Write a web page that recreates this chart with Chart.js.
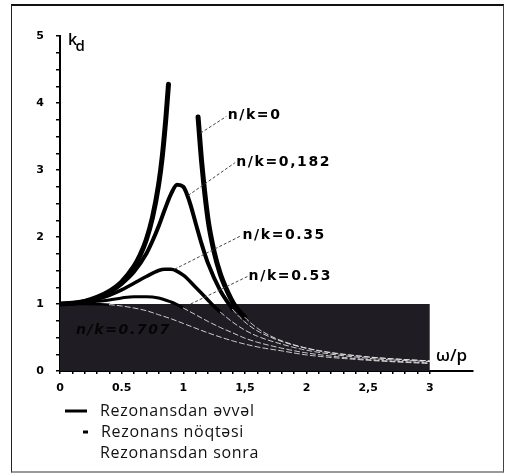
<!DOCTYPE html>
<html>
<head>
<meta charset="utf-8">
<script src="https://cdn.jsdelivr.net/npm/chart.js@4.4.1/dist/chart.umd.min.js"></script>
<style>
  html, body { margin: 0; padding: 0; background: #fff; }
  #wrap { position: relative; width: 505px; height: 473px; }
  #c { position: absolute; left: 0; top: 0; }
  #frame { position: absolute; left: 11px; top: 4px; width: 491px; height: 465px;
           border-top: 2px solid #111; border-left: 1.5px solid #222; border-right: 1px solid #444; border-bottom: 2px solid #999;
           pointer-events: none; }
</style>
</head>
<body>
<div id="wrap">
  <canvas id="c" width="505" height="473"></canvas>
  <div id="frame"></div>
</div>
<script>
// ---------------- data ----------------
const xTickLabels = ['0', '0.5', '1', '1,5', '2', '2,5', '3'];
const yTickLabels = ['0', '1', '2', '3', '4', '5'];

// n/k = 0 (two branches, broken at resonance)
const nk0LeftX  = [0, 0.1, 0.2, 0.3, 0.4, 0.5, 0.6, 0.65, 0.7, 0.75, 0.8, 0.83, 0.86, 0.88];
const nk0LeftY  = [1, 1.01, 1.04, 1.10, 1.19, 1.33, 1.56, 1.73, 1.96, 2.29, 2.78, 3.21, 3.80, 4.28];
const nk0RightX = [1.12, 1.15, 1.2, 1.25, 1.3, 1.35, 1.41, 1.5, 1.6, 1.7, 1.8, 2.0, 2.2, 2.5, 2.8, 3.0];
const nk0RightY = [3.79, 3.10, 2.27, 1.78, 1.45, 1.22, 1.0, 0.80, 0.64, 0.53, 0.45, 0.34, 0.27, 0.21, 0.17, 0.15];

// n/k = 0,182
const nk0182X = [0, 0.1, 0.2, 0.3, 0.4, 0.5, 0.6, 0.7, 0.75, 0.8, 0.85, 0.9, 0.95, 1.0, 1.05, 1.1, 1.15, 1.2, 1.3, 1.37, 1.4, 1.5, 1.6, 1.8, 2.0, 2.5, 3.0];
const nk0182Y = [1, 1.01, 1.04, 1.09, 1.17, 1.30, 1.48, 1.75, 1.94, 2.16, 2.41, 2.64, 2.78, 2.75, 2.53, 2.21, 1.89, 1.61, 1.20, 1.0, 0.92, 0.73, 0.60, 0.44, 0.34, 0.21, 0.15];

// n/k = 0.35
const nk035X = [0, 0.1, 0.2, 0.3, 0.4, 0.5, 0.6, 0.7, 0.8, 0.85, 0.9, 1.0, 1.1, 1.2, 1.23, 1.3, 1.4, 1.5, 1.6, 1.8, 2.0, 2.5, 3.0];
const nk035Y = [1, 1.01, 1.03, 1.07, 1.13, 1.21, 1.31, 1.41, 1.50, 1.52, 1.52, 1.43, 1.25, 1.06, 1.0, 0.88, 0.73, 0.61, 0.52, 0.40, 0.31, 0.19, 0.14];

// n/k = 0.53
const nk053X = [0, 0.1, 0.2, 0.3, 0.4, 0.5, 0.6, 0.65, 0.7, 0.8, 0.9, 0.94, 1.0, 1.1, 1.2, 1.3, 1.4, 1.5, 1.6, 1.8, 2.0, 2.5, 3.0];
const nk053Y = [1, 1.0, 1.02, 1.04, 1.06, 1.09, 1.11, 1.11, 1.11, 1.09, 1.03, 1.0, 0.94, 0.84, 0.74, 0.65, 0.57, 0.49, 0.43, 0.34, 0.27, 0.17, 0.12];

// n/k = 0.707
const nk0707X = [0, 0.1, 0.2, 0.3, 0.4, 0.5, 0.6, 0.7, 0.8, 0.9, 1.0, 1.2, 1.4, 1.6, 1.8, 2.0, 2.5, 3.0];
const nk0707Y = [1, 1.0, 1.0, 0.996, 0.99, 0.97, 0.94, 0.90, 0.84, 0.78, 0.71, 0.57, 0.45, 0.36, 0.30, 0.24, 0.16, 0.11];

// shaded zone k_d <= 1 (0 .. 3)
const zoneX = [0, 3];
const zoneY = [1, 1];

const curveLabels = ['n/k=0', 'n/k=0,182', 'n/k=0.35', 'n/k=0.53', 'n/k=0.707'];
const legendLabels = ['Rezonansdan əvvəl', 'Rezonans nöqtəsi', 'Rezonansdan sonra'];
const xAxisTitle = 'ω/p';
const yAxisTitle = ['k', 'd'];

// ---------------- build ----------------
const pts = (xs, ys) => xs.map((v, i) => ({ x: v, y: ys[i] }));
const below = c => Math.max(c.p0.parsed.y, c.p1.parsed.y) < 0.995;

function curve(xs, ys, w) {
  return {
    data: pts(xs, ys),
    borderColor: '#000',
    borderWidth: w,
    pointRadius: 0,
    fill: false,
    cubicInterpolationMode: 'monotone',
    borderCapStyle: 'round',
    order: 1,
    segment: {
      borderColor: c => below(c) ? 'rgba(235,235,235,0.85)' : undefined,
      borderDash: c => below(c) ? [5, 3] : undefined,
      borderWidth: c => below(c) ? 1 : undefined
    }
  };
}

const labelPos = [[1.36, 3.81], [1.43, 3.12], [1.48, 2.03], [1.53, 1.42], [0.13, 0.61]];
const leaders = [[1.14, 3.55, 1.35, 3.80], [1.04, 2.62, 1.42, 3.11], [0.93, 1.52, 1.47, 2.02], [1.06, 1.0, 1.52, 1.41]];

const annot = {
  id: 'annot',
  afterDatasetsDraw(chart) {
    const { ctx, scales: { x, y } } = chart;
    const X = v => x.getPixelForValue(v), Y = v => y.getPixelForValue(v);
    ctx.save();
    ctx.strokeStyle = '#444';
    ctx.lineWidth = 1;
    ctx.setLineDash([3, 2]);
    leaders.forEach(l => {
      ctx.beginPath(); ctx.moveTo(X(l[0]), Y(l[1])); ctx.lineTo(X(l[2]), Y(l[3])); ctx.stroke();
    });
    ctx.setLineDash([]);
    ctx.fillStyle = '#000';
    ctx.textBaseline = 'middle';
    ctx.textAlign = 'left';
    ctx.font = 'bold 14px "DejaVu Sans"';
    ctx.letterSpacing = '1.6px';
    for (let i = 0; i < 4; i++) ctx.fillText(curveLabels[i], X(labelPos[i][0]), Y(labelPos[i][1]));
    ctx.font = 'italic bold 14px "DejaVu Sans"';
    ctx.fillStyle = '#050505';
    ctx.fillText(curveLabels[4], X(labelPos[4][0]), Y(labelPos[4][1]));
    ctx.letterSpacing = '0px';

    // axis titles
    ctx.fillStyle = '#000';
    ctx.font = '600 17px "Open Sans"';
    ctx.fillText(xAxisTitle, X(3.05), Y(0.22));
    ctx.font = '600 16px "Open Sans"';
    ctx.fillText(yAxisTitle[0], X(0.065), Y(4.93));
    ctx.font = '600 15px "Open Sans"';
    ctx.fillText(yAxisTitle[1], X(0.125), Y(4.84));

    // legend
    const lx = chart.chartArea.left;
    const top = chart.chartArea.bottom;
    ctx.strokeStyle = '#000';
    ctx.lineWidth = 3;
    ctx.beginPath(); ctx.moveTo(lx + 5, top + 40); ctx.lineTo(lx + 27, top + 40); ctx.stroke();
    ctx.beginPath(); ctx.moveTo(lx + 23, top + 61); ctx.lineTo(lx + 28, top + 61); ctx.stroke();
    ctx.font = '16px "Open Sans"';
    ctx.letterSpacing = '0.7px';
    ctx.fillStyle = '#111';
    ctx.fillText(legendLabels[0], lx + 40, top + 40);
    ctx.fillText(legendLabels[1], lx + 41, top + 61);
    ctx.fillText(legendLabels[2], lx + 40, top + 82);
    ctx.restore();
  }
};

new Chart(document.getElementById('c'), {
  type: 'line',
  data: {
    datasets: [
      { data: pts(zoneX, zoneY), borderWidth: 0, borderColor: 'rgba(0,0,0,0)', backgroundColor: '#1f1c24',
        fill: 'origin', pointRadius: 0, order: 10 },
      curve(nk0LeftX, nk0LeftY, 5),
      curve(nk0RightX, nk0RightY, 5),
      curve(nk0182X, nk0182Y, 4),
      curve(nk035X, nk035Y, 3.5),
      curve(nk053X, nk053Y, 3),
      curve(nk0707X, nk0707Y, 2.5)
    ]
  },
  options: {
    responsive: false,
    animation: false,
    events: [],
    layout: { padding: { left: 0, top: 36, right: 32, bottom: 0 } },
    plugins: { legend: { display: false }, tooltip: { enabled: false } },
    scales: {
      x: {
        type: 'linear', min: 0, max: 3.35,
        afterFit: s => { s.height = 102; },
        border: { display: true, color: '#000', width: 2 },
        grid: { display: true, drawOnChartArea: false, drawTicks: true, tickLength: 3, color: '#000', lineWidth: 1.5 },
        ticks: {
          stepSize: 0.1, autoSkip: false, maxRotation: 0, padding: 8, color: '#000',
          font: { family: 'DejaVu Sans', size: 11, weight: 'bold' },
          callback: v => {
            if (v > 3.001) return null;
            const h = v * 2;
            return Math.abs(h - Math.round(h)) < 1e-6 ? xTickLabels[Math.round(h)] : '';
          }
        }
      },
      y: {
        type: 'linear', min: 0, max: 5,
        afterFit: s => { s.width = 60; },
        border: { display: true, color: '#000', width: 2 },
        grid: { display: true, drawOnChartArea: false, drawTicks: true, tickLength: 4, color: '#000', lineWidth: 1.5 },
        ticks: {
          stepSize: 0.25, autoSkip: false, padding: 12, color: '#000',
          font: { family: 'DejaVu Sans', size: 11, weight: 'bold' },
          callback: v => Math.abs(v - Math.round(v)) < 1e-6 ? yTickLabels[Math.round(v)] : ''
        }
      }
    }
  },
  plugins: [annot]
});
</script>
</body>
</html>
